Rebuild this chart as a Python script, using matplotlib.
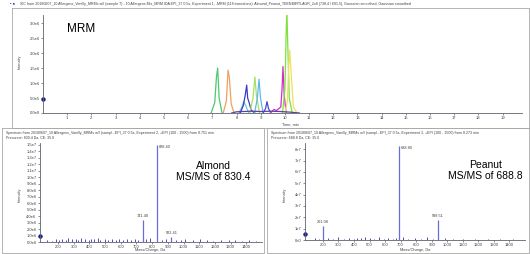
import matplotlib
matplotlib.use("Agg")
import matplotlib.pyplot as plt
from matplotlib.lines import Line2D

plt.rcParams["font.family"] = ["Liberation Sans", "DejaVu Sans"]

W, H = 530, 254

# ---- top panel: MRM chromatogram traces (time, min / intensity, cps) ----
mrm_traces = {
    "green_a": ([6.95, 7.10, 7.17, 7.22, 7.28, 7.40], [0, 0.35e6, 1.2e6, 1.5e6, 0.5e6, 0]),
    "orange": ([7.45, 7.58, 7.65, 7.70, 7.78, 7.90], [0, 0.4e6, 1.43e6, 1.2e6, 0.3e6, 0]),
    "cyan_a": ([8.10, 8.22, 8.30, 8.38, 8.50], [0, 0.2e6, 0.38e6, 0.25e6, 0]),
    "blue_a": ([8.15, 8.28, 8.36, 8.42, 8.46, 8.52, 8.60, 8.75],
               [0, 0.25e6, 0.6e6, 0.93e6, 0.5e6, 0.35e6, 0.1e6, 0]),
    "lightgreen": ([8.55, 8.68, 8.76, 8.82, 8.95], [0, 0.5e6, 1.2e6, 0.6e6, 0]),
    "cyan_b": ([8.75, 8.86, 8.93, 8.99, 9.10], [0, 0.5e6, 1.13e6, 0.5e6, 0]),
    "blue_b": ([9.10, 9.20, 9.26, 9.32, 9.42], [0, 0.15e6, 0.38e6, 0.15e6, 0]),
    "magenta": ([9.40, 9.55, 9.65, 9.75, 9.83, 9.88, 9.92, 9.97, 10.05],
                [0, 0.12e6, 0.08e6, 0.15e6, 0.2e6, 0.8e6, 1.55e6, 0.6e6, 0]),
    "green_b": ([9.90, 10.00, 10.05, 10.08, 10.12, 10.18, 10.30],
                [0, 0.8e6, 2.6e6, 3.5e6, 2.2e6, 0.5e6, 0]),
    "yellow": ([10.00, 10.10, 10.16, 10.20, 10.26, 10.35, 10.50],
               [0, 0.4e6, 1.6e6, 2.1e6, 1.3e6, 0.2e6, 0]),
    "purple": ([7.8, 8.0, 8.6, 9.0, 9.4, 9.8, 10.2, 10.6],
               [0, 0.04e6, 0.06e6, 0.05e6, 0.06e6, 0.05e6, 0.03e6, 0]),
}
mrm_colors = {
    "green_a": "#4cc96a", "orange": "#f0a060", "cyan_a": "#70c8f0",
    "blue_a": "#3a3ac8", "lightgreen": "#a8e060", "cyan_b": "#60b8f0",
    "blue_b": "#4848d0", "magenta": "#d030c8", "green_b": "#80e040",
    "yellow": "#f0e060", "purple": "#6040a0",
}
mrm_yticks = [0, 5e5, 1e6, 1.5e6, 2e6, 2.5e6, 3e6]
mrm_yticklabels = ["0.0e0", "5.0e5", "1.0e6", "1.5e6", "2.0e6", "2.5e6", "3.0e6"]
mrm_xticks = list(range(1, 20))

# ---- bottom left: almond MS/MS ----
almond_peak_mz = [741.4, 828.4, 922.4]
almond_peak_int = [3.4e6, 1.5e7, 0.8e6]
almond_peak_labels = ["741.40", "828.40", "922.41"]
almond_noise_mz = [130, 160, 185, 205, 228, 250, 262, 290, 312, 330, 348, 372, 395,
                   410, 432, 455, 470, 498, 520, 545, 568, 590, 612, 640, 668, 690,
                   712, 760, 785, 860, 890, 955, 985, 1010, 1060, 1105, 1150, 1190,
                   1240, 1290, 1330, 1370, 1420, 1460]
almond_noise_int = [0.3e6, 0.2e6, 0.4e6, 0.3e6, 0.5e6, 0.35e6, 0.6e6, 0.4e6, 0.5e6,
                    0.3e6, 0.6e6, 0.45e6, 0.3e6, 0.5e6, 0.4e6, 0.55e6, 0.3e6, 0.45e6,
                    0.35e6, 0.5e6, 0.3e6, 0.4e6, 0.25e6, 0.45e6, 0.3e6, 0.5e6, 0.35e6,
                    0.4e6, 0.6e6, 0.3e6, 0.45e6, 0.35e6, 0.3e6, 0.4e6, 0.25e6, 0.5e6,
                    0.3e6, 0.2e6, 0.35e6, 0.25e6, 0.3e6, 0.2e6, 0.25e6, 0.2e6]
almond_yticks = [i * 1e6 for i in range(16)]

# ---- bottom right: peanut MS/MS ----
peanut_peak_mz = [201.1, 688.8, 938.5]
peanut_peak_int = [1.24e7, 8.3e7, 1.8e7]
peanut_peak_labels = ["201.08", "688.80", "938.51"]
peanut_noise_mz = [150, 175, 230, 262, 300, 335, 365, 398, 420, 447, 470, 502, 530,
                   560, 590, 620, 650, 672, 715, 745, 790, 830, 870, 910, 985, 1040,
                   1100, 1180, 1260, 1340, 1420]
peanut_noise_int = [1.5e6, 1.0e6, 2.0e6, 1.2e6, 2.5e6, 1.0e6, 1.8e6, 1.2e6, 2.2e6,
                    1.5e6, 2.8e6, 1.6e6, 1.2e6, 2.4e6, 1.0e6, 1.5e6, 1.2e6, 2.0e6,
                    3.0e6, 1.2e6, 1.8e6, 1.0e6, 2.5e6, 1.2e6, 1.5e6, 0.8e6, 1.0e6,
                    0.8e6, 0.6e6, 0.8e6, 0.6e6]
peanut_yticks = [i * 1e7 for i in range(9)]

header_top = ("XIC from 20180607_10 Allergens_Vanilly_MRMs w/I (sample 7) - 10 Allergens Mix_MRM IDA EPI_37 0.5s, "
              "Experiment 1, -MRM (118 transitions): Almond_Peanut_TEENIMRTLAGR_2x8 (738.4 / 691.5), "
              "Gaussian smoothed, Gaussian smoothed")
header_left = ["Spectrum from 20180607_10 Allergens_Vanilly_MRMs w/I (sampl...EPI_37 0.5s, Experiment 2, +EPI (100 - 1500) from 8.751 min",
               "Precursor: 830.4 Da, CE: 35.0"]
header_right = ["Spectrum from 20180607_10 Allergens_Vanilly_MRMs w/I (sampl...EPI_37 0.5s, Experiment 3, +EPI (100 - 1500) from 8.273 min",
                "Precursor: 688.8 Da, CE: 35.0"]

SPINE = "#606070"
TXT = "#404040"


def px_axes(fig, left, top, right, bottom):
    return fig.add_axes([left / W, 1 - bottom / H, (right - left) / W, (bottom - top) / H])


def style_axes(ax):
    for side in ("top", "right"):
        ax.spines[side].set_visible(False)
    for side in ("left", "bottom"):
        ax.spines[side].set_color(SPINE)
        ax.spines[side].set_linewidth(0.6)
    ax.tick_params(length=1.5, width=0.5, colors=SPINE, labelsize=3, labelcolor=TXT, pad=1)
    ax.set_facecolor("none")


def sci_label(v):
    if v == 0:
        return "0.0e0"
    exp = len(str(int(v))) - 1
    return f"{v / 10 ** exp:.1f}e{exp}"


fig = plt.figure(figsize=(W / 100, H / 100), dpi=100)
fig.patch.set_facecolor("white")

# panel frames
frame = "#a8a8a8"
for x0, y0, x1, y1 in [(12, 8, 529, 128), (2, 128, 264, 253), (267, 128, 529, 253)]:
    fig.add_artist(Line2D([x0 / W, x1 / W, x1 / W, x0 / W, x0 / W],
                          [1 - y0 / H, 1 - y0 / H, 1 - y1 / H, 1 - y1 / H, 1 - y0 / H],
                          color=frame, lw=0.6, transform=fig.transFigure))

# ---- top chromatogram ----
ax = px_axes(fig, 43, 15, 522, 113)
style_axes(ax)
for key, (t, inten) in mrm_traces.items():
    ax.plot(t, inten, color=mrm_colors[key], lw=0.9)
ax.set_xlim(0, 19.8)
ax.set_ylim(0, 3.27e6)
ax.set_xticks(mrm_xticks)
ax.set_xticklabels([str(v) for v in mrm_xticks])
ax.set_yticks(mrm_yticks)
ax.set_yticklabels(mrm_yticklabels)
ax.plot([0], [4.6e5], "o", color="#202090", ms=2.2, clip_on=False)
ax.text(0.05, 0.83, "MRM", transform=ax.transAxes, fontsize=8.5, color="black")
fig.text(20 / W, 1 - 62 / H, "Intensity", rotation=90, fontsize=2.8, color=TXT, ha="center", va="center")
fig.text(290 / W, 1 - 125 / H, "Time, min", fontsize=2.8, color=TXT, ha="center", va="center")
fig.text(10 / W, 1 - 4 / H, "\u25aa \u25cf", fontsize=3, color="#2030a0", va="center")
fig.text(20 / W, 1 - 4 / H, header_top, fontsize=2.6, color=TXT, va="center")


def spectrum(ax, noise_mz, noise_int, peak_mz, peak_int, labels, ymax, yticks, ylabels, label_pos):
    style_axes(ax)
    ax.vlines(noise_mz, 0, noise_int, color="#3030b0", lw=0.6)
    ax.vlines(peak_mz, 0, peak_int, color="#6a6ad8", lw=0.9)
    for mz, val, lab, pos in zip(peak_mz, peak_int, labels, label_pos):
        if pos == "right":
            ax.text(mz + 15, val, lab, fontsize=2.8, color=TXT, ha="left", va="top")
        else:
            ax.text(mz, val + ymax * 0.02, lab, fontsize=2.8, color=TXT, ha="center", va="bottom")
    ax.set_xlim(85, 1500)
    ax.set_ylim(0, ymax)
    ax.set_xticks(list(range(200, 1500, 100)))
    ax.set_yticks(yticks)
    ax.set_yticklabels(ylabels)
    ax.plot([85], [ymax * 0.06], "o", color="#202090", ms=2.2, clip_on=False)


ax_l = px_axes(fig, 40, 143, 262, 242)
spectrum(ax_l, almond_noise_mz, almond_noise_int, almond_peak_mz, almond_peak_int,
         almond_peak_labels, 1.53e7, almond_yticks, [sci_label(v) for v in almond_yticks],
         ["above", "right", "above"])
ax_l.text(0.78, 0.82, "Almond\nMS/MS of 830.4", transform=ax_l.transAxes, fontsize=7.5,
          ha="center", va="top", linespacing=1.1)

ax_r = px_axes(fig, 305, 143, 525, 240)
spectrum(ax_r, peanut_noise_mz, peanut_noise_int, peanut_peak_mz, peanut_peak_int,
         peanut_peak_labels, 8.55e7, peanut_yticks,
         ["0e0"] + [f"{i}e7" for i in range(1, 9)],
         ["above", "right", "above"])
ax_r.text(0.82, 0.82, "Peanut\nMS/MS of 688.8", transform=ax_r.transAxes, fontsize=7.5,
          ha="center", va="top", linespacing=1.1)

for x, y_top, lines, xl in [(6, 133, header_left, 150), (271, 133, header_right, 415)]:
    fig.text(x / W, 1 - y_top / H, lines[0], fontsize=2.6, color=TXT, va="center")
    fig.text(x / W, 1 - (y_top + 5) / H, lines[1], fontsize=2.6, color=TXT, va="center")
    fig.text(xl / W, 1 - 250 / H, "Mass/Charge, Da", fontsize=2.8, color=TXT, ha="center", va="center")
fig.text(20 / W, 1 - 195 / H, "Intensity", rotation=90, fontsize=2.8, color=TXT, ha="center", va="center")
fig.text(285 / W, 1 - 195 / H, "Intensity", rotation=90, fontsize=2.8, color=TXT, ha="center", va="center")

fig.savefig("out.png", dpi=100)
